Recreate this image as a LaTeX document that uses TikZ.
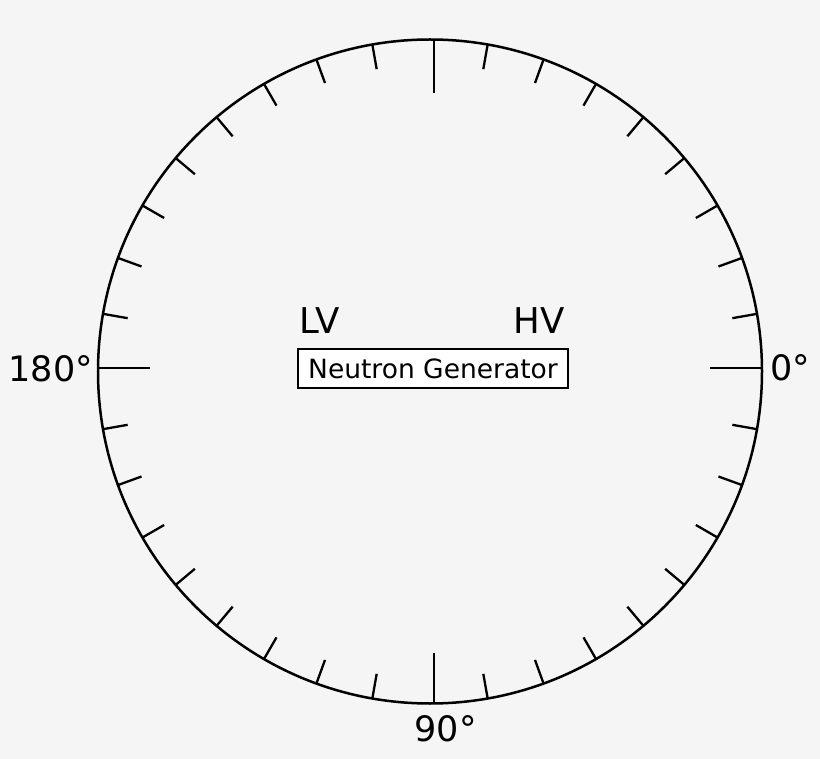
\documentclass[tikz,border=0pt]{standalone}
\usepackage{fontspec}
\setmainfont{DejaVu Sans}
\definecolor{bg}{RGB}{245,245,245}
\tikzset{
  dialline/.style={line width=2.5pt, draw=black},
  ticka/.style={line width=2.3pt, draw=black},
  bigtick/.style={line width=2.5pt, draw=black},
  lab/.style={inner sep=0pt, font=\fontsize{35}{38}\selectfont},
  volt/.style={inner sep=0pt, font=\fontsize{35.5}{38}\selectfont},
  genbox/.style={draw=black, line width=1.8pt, fill=white, inner sep=0pt,
    minimum width=270pt, minimum height=39pt, font=\fontsize{26.5}{30}\selectfont}
}
\begin{document}
\begin{tikzpicture}[x=1pt,y=-1pt]
\fill[bg] (0,0) rectangle (820,759);
\useasboundingbox (0,0) rectangle (820,759);
\coordinate (c) at (430,371.5);
\draw[dialline] (c) circle[radius=332];
\foreach \a in {10,20,...,80,100,110,...,170,190,200,...,260,280,290,...,350}
  \draw[ticka] (c) ++(\a:332) -- ++(\a+180:25);
% major ticks
\coordinate (t0) at (434,40.5);  \coordinate (t1) at (434,93);
\coordinate (b0) at (434,703.5); \coordinate (b1) at (434,653);
\coordinate (l0) at (97,368);    \coordinate (l1) at (150,368);
\coordinate (r0) at (762,368);   \coordinate (r1) at (710,368);
\draw[bigtick] (t0) -- (t1);
\draw[bigtick] (b0) -- (b1);
\draw[bigtick] (l0) -- (l1);
\draw[bigtick] (r0) -- (r1);
% labels
\node[lab, anchor=base west] (deg0) at (770,381) {0°};
\node[lab, anchor=base east] (deg180) at (93,381.5) {180°};
\node[lab, anchor=base] (deg90) at (445.5,741.5) {90°};
\node[volt, anchor=base west] (lv) at (299,333.5) {LV};
\node[volt, anchor=base east] (hv) at (565,333.5) {HV};
\node[genbox] (ng) at (433,368.5) {Neutron Generator};
\end{tikzpicture}
\end{document}
